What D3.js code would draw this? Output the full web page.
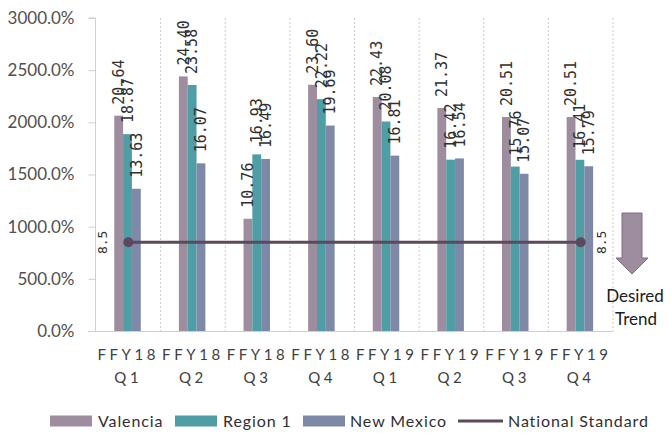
<!DOCTYPE html>
<html>
<head>
<meta charset="utf-8">
<script src="https://cdn.jsdelivr.net/npm/d3@7"></script>
<style>
  html, body { margin: 0; padding: 0; background: #fff; }
  svg { display: block; }
</style>
</head>
<body>
<svg id="chart" width="670" height="433"></svg>
<script>
const categories = [["FFY18","Q1"],["FFY18","Q2"],["FFY18","Q3"],["FFY18","Q4"],["FFY19","Q1"],["FFY19","Q2"],["FFY19","Q3"],["FFY19","Q4"]];
const seriesNames = ["Valencia", "Region 1", "New Mexico"];
const valencia = [20.64, 24.40, 10.76, 23.60, 22.43, 21.37, 20.51, 20.51];
const region1 = [18.87, 23.58, 16.93, 22.22, 20.08, 16.42, 15.76, 16.41];
const newMexico = [13.63, 16.07, 16.49, 19.69, 16.81, 16.54, 15.07, 15.79];
const nationalStandard = 8.5;
const nationalName = "National Standard";
const yTicks = [0, 5, 10, 15, 20, 25, 30];
const colors = ["#9e8c9f", "#4f9ea6", "#7d89a6"];
const lineColor = "#5b4a5c";

const svg = d3.select("#chart");
const catKeys = categories.map(c => c.join(" "));
const x0 = d3.scaleBand().domain(catKeys).range([96, 613]).padding(0);
const bw = x0.bandwidth();
const gw = bw * 0.41;
const x1 = d3.scaleBand().domain(seriesNames).range([0, gw]).padding(0);
const gOff = (bw - gw) / 2 - 0.8;
const y = d3.scaleLinear().domain([0, 30]).range([331, 18]);

// vertical dotted gridlines at category boundaries
const bounds = catKeys.map(k => x0(k)).concat([613]);
svg.append("g").selectAll("line").data(bounds.slice(1)).join("line")
  .attr("x1", d => d).attr("x2", d => d)
  .attr("y1", y(30)).attr("y2", y(0))
  .attr("stroke", "#c8c8c8").attr("stroke-width", 1)
  .attr("stroke-dasharray", "2,2");

// y axis
const yAxis = d3.axisLeft(y).tickValues(yTicks).tickSize(7).tickPadding(14)
  .tickFormat(d => (d * 100).toFixed(1) + "%");
const ga = svg.append("g").attr("transform", "translate(95.5,0)").call(yAxis);
ga.select(".domain").attr("stroke", "#d0d0d0").attr("d", `M-7,${y(30)}H0V${y(0)}`);
ga.selectAll(".tick line").attr("stroke", "#d0d0d0");
ga.selectAll(".tick text").attr("font-family", "Lato, 'Open Sans', sans-serif")
  .attr("font-size", 17).attr("fill", "#505050");

// x axis line
svg.append("line").attr("x1", 88).attr("x2", 613).attr("y1", y(0) + 0.5).attr("y2", y(0) + 0.5)
  .attr("stroke", "#d0d0d0").attr("stroke-width", 1);

// category labels
const cl = svg.append("g");
categories.forEach((c, i) => {
  const cx = x0(catKeys[i]) + bw / 2;
  cl.append("text").attr("x", cx).attr("y", 360).attr("text-anchor", "middle")
    .attr("font-family", "Lato, sans-serif").attr("font-size", 15).attr("letter-spacing", 3.6)
    .attr("fill", "#404040").text(c[0]);
  cl.append("text").attr("x", cx).attr("y", 383).attr("text-anchor", "middle")
    .attr("font-family", "Lato, sans-serif").attr("font-size", 15).attr("letter-spacing", 3.6)
    .attr("fill", "#404040").text(c[1]);
});

// bars
const seriesData = [valencia, region1, newMexico];
const barRows = [];
catKeys.forEach((k, i) => {
  seriesData.forEach((arr, s) => barRows.push({ k, s, name: seriesNames[s], v: arr[i] }));
});
svg.append("g").selectAll("rect").data(barRows).join("rect")
  .attr("x", d => x0(d.k) + gOff + x1(d.name))
  .attr("width", x1.bandwidth())
  .attr("y", d => y(d.v))
  .attr("height", d => y(0) - y(d.v))
  .attr("fill", d => colors[d.s]);

// national standard line
const firstX = x0(catKeys[0]) + bw / 2;
const lastX = x0(catKeys[catKeys.length - 1]) + bw / 2;
const lineData = [[firstX, nationalStandard], [lastX, nationalStandard]];
svg.append("path").datum(lineData)
  .attr("d", d3.line().x(d => d[0]).y(d => y(d[1])))
  .attr("stroke", lineColor).attr("stroke-width", 3).attr("fill", "none");
svg.append("g").selectAll("circle").data(lineData).join("circle")
  .attr("cx", d => d[0]).attr("cy", d => y(d[1])).attr("r", 5).attr("fill", lineColor);

// data labels
svg.append("g").selectAll("text").data(barRows).join("text")
  .attr("transform", d => `translate(${x0(d.k) + gOff + x1(d.name) + x1.bandwidth() / 2},${y(d.v) - 11}) rotate(-90)`)
  .attr("text-anchor", "start").attr("dy", "0.35em")
  .attr("font-family", "'DejaVu Sans Mono', monospace").attr("font-size", 15)
  .attr("fill", "#303030").text(d => d.v.toFixed(2));

// 8.5 labels
[[firstX - 26, nationalStandard], [lastX + 21, nationalStandard]].forEach(p => {
  svg.append("text")
    .attr("transform", `translate(${p[0]},${y(p[1])}) rotate(-90)`)
    .attr("text-anchor", "middle").attr("dy", "0.35em")
    .attr("font-family", "'DejaVu Sans Mono', monospace").attr("font-size", 13)
    .attr("fill", "#303030").text(String(p[1]));
});

// desired trend arrow
svg.append("path")
  .attr("d", "M622,213 L642,213 L642,258 L648,258 L632,274 L616,258 L622,258 Z")
  .attr("fill", "#9e8c9f").attr("stroke", "#7e6c80").attr("stroke-width", 1);
svg.append("text").attr("x", 635).attr("y", 302).attr("text-anchor", "middle")
  .attr("font-family", "Lato, sans-serif").attr("font-size", 17).attr("fill", "#202020").text("Desired");
svg.append("text").attr("x", 636).attr("y", 325).attr("text-anchor", "middle")
  .attr("font-family", "Lato, sans-serif").attr("font-size", 17).attr("fill", "#202020").text("Trend");

// legend
const legY = 421;
const legendItems = [
  { type: "rect", name: seriesNames[0], color: colors[0], sx: 50, tx: 98 },
  { type: "rect", name: seriesNames[1], color: colors[1], sx: 175, tx: 223 },
  { type: "rect", name: seriesNames[2], color: colors[2], sx: 303, tx: 350 },
  { type: "line", name: nationalName, color: lineColor, sx: 458, tx: 508 }
];
const lg = svg.append("g");
legendItems.forEach(it => {
  if (it.type === "rect") {
    lg.append("rect").attr("x", it.sx).attr("y", legY - 5.5).attr("width", 42).attr("height", 11).attr("fill", it.color);
  } else {
    lg.append("line").attr("x1", it.sx).attr("x2", it.sx + 45).attr("y1", legY).attr("y2", legY)
      .attr("stroke", it.color).attr("stroke-width", 3);
  }
  lg.append("text").attr("x", it.tx).attr("y", legY).attr("dy", "0.35em")
    .attr("font-family", "Lato, sans-serif").attr("font-size", 16).attr("letter-spacing", 0.9)
    .attr("fill", "#303030").text(it.name);
});
</script>
</body>
</html>
